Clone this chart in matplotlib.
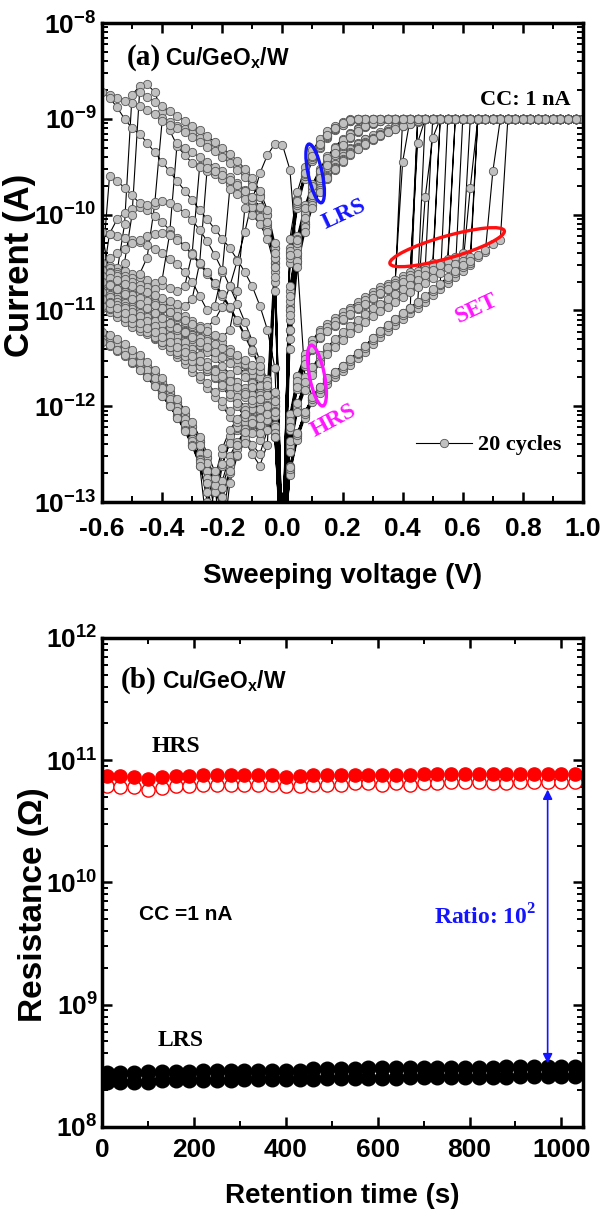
import numpy as np
import matplotlib
matplotlib.use("Agg")
import matplotlib.pyplot as plt
from matplotlib.patches import Ellipse
from matplotlib.transforms import ScaledTranslation
from matplotlib.ticker import MultipleLocator, LogLocator, NullFormatter

plt.rcParams['font.family'] = ['Liberation Sans', 'DejaVu Sans']
plt.rcParams['font.weight'] = 'bold'
plt.rcParams['axes.labelweight'] = 'bold'
plt.rcParams['axes.unicode_minus'] = False
SERIF = ['Liberation Serif', 'DejaVu Serif']

# ---------------- (a) I-V sweeps, 20 cycles ----------------
# sweep voltages (V)
v_up = [0.025, 0.05, 0.075, 0.1, 0.125, 0.15, 0.175, 0.2, 0.225, 0.25,
        0.275, 0.3, 0.325, 0.35, 0.375, 0.4, 0.425, 0.45, 0.475, 0.5,
        0.525, 0.55, 0.575, 0.6, 0.625, 0.65, 0.675, 0.7, 0.725, 0.75,
        0.775, 0.8, 0.825, 0.85, 0.875, 0.9, 0.925, 0.95, 0.975, 1.0]
v_down = v_up[-2::-1] + [0.0]
v_out = [-0.025, -0.05, -0.075, -0.1, -0.125, -0.15, -0.175, -0.2,
         -0.225, -0.25, -0.275, -0.3, -0.325, -0.35, -0.375, -0.4,
         -0.425, -0.45, -0.475, -0.5, -0.525, -0.55, -0.575, -0.6]
v_back = v_out[-2::-1] + [0.0]

# currents as -log10(I) * 100  (900 -> 1 nA compliance)
CC = 900

# forward sweep, HRS part before SET (rest sits at compliance)
hrs_up = [
    [1218, 1178, 1155, 1139, 1127, 1120, 1114, 1108, 1103, 1097, 1092, 1086, 1081, 1077, 1073],
    [1212, 1170, 1148, 1133, 1122, 1116, 1110, 1105, 1099, 1094, 1088, 1083, 1078, 1074, 1070, 945],
    [1225, 1182, 1158, 1141, 1129, 1122, 1116, 1110, 1105, 1099, 1094, 1088, 1083, 1079, 1075, 1071, 1067],
    [1270, 1233, 1210, 1194, 1184, 1175, 1168, 1161, 1155, 1148, 1141, 1133, 1126, 1119, 1113, 1107, 1100],
    [1208, 1168, 1146, 1131, 1120, 1114, 1108, 1102, 1097, 1091, 1086, 1081, 1076, 1072, 1068, 1064, 1060, 925],
    [1245, 1203, 1180, 1164, 1152, 1143, 1135, 1128, 1121, 1115, 1109, 1103, 1098, 1093, 1088, 1083, 1078, 1073],
    [1220, 1176, 1153, 1137, 1125, 1119, 1113, 1107, 1102, 1096, 1091, 1085, 1080, 1077, 1073, 1069, 1065, 1061, 1057],
    [1262, 1228, 1206, 1190, 1180, 1171, 1164, 1158, 1151, 1144, 1137, 1129, 1122, 1115, 1109, 1103, 1097, 1091, 982, 920],
    [1238, 1198, 1176, 1160, 1148, 1139, 1131, 1124, 1117, 1111, 1105, 1099, 1094, 1089, 1084, 1079, 1074, 1069, 1064, 1059],
    [1215, 1174, 1151, 1135, 1123, 1117, 1111, 1106, 1100, 1095, 1089, 1084, 1079, 1075, 1071, 1067, 1063, 1059, 1055, 1051],
    [953, 1050, 1170, 1190, 1180, 1172, 1165, 1158, 1152, 1145, 1138, 1130, 1123, 1116, 1110, 1104, 1098, 1092, 1086, 1079, 1073],
    [1222, 1180, 1156, 1140, 1128, 1121, 1115, 1109, 1104, 1098, 1093, 1087, 1082, 1078, 1074, 1070, 1066, 1062, 1058, 1054, 1050, 1046],
    [1242, 1201, 1179, 1163, 1151, 1142, 1134, 1127, 1120, 1114, 1108, 1102, 1097, 1092, 1087, 1082, 1077, 1072, 1067, 1062, 1057, 1052],
    [1268, 1231, 1209, 1193, 1183, 1174, 1167, 1160, 1154, 1147, 1140, 1132, 1125, 1118, 1112, 1106, 1100, 1094, 1088, 1081, 1075, 1068, 1062],
    [1265, 1229, 1207, 1191, 1181, 1172, 1165, 1159, 1152, 1145, 1138, 1130, 1123, 1116, 1110, 1104, 1098, 1092, 1086, 1079, 1073, 1066, 1060, 1054, 972],
    [1236, 1197, 1175, 1159, 1147, 1138, 1130, 1123, 1116, 1110, 1104, 1098, 1093, 1088, 1083, 1078, 1073, 1068, 1063, 1058, 1053, 1048, 1044, 1040],
    [1272, 1235, 1212, 1196, 1186, 1177, 1170, 1163, 1157, 1150, 1143, 1135, 1128, 1121, 1115, 1109, 1103, 1097, 1091, 1084, 1078, 1071, 1065, 1059, 1053],
    [1248, 1206, 1183, 1167, 1155, 1146, 1138, 1131, 1124, 1118, 1112, 1106, 1101, 1096, 1091, 1086, 1081, 1076, 1071, 1066, 1061, 1056, 1052, 1048, 1044],
    [1266, 1230, 1208, 1192, 1182, 1173, 1166, 1160, 1153, 1146, 1139, 1131, 1124, 1117, 1111, 1105, 1099, 1093, 1087, 1080, 1074, 1067, 1061, 1055, 1050, 1044, 1039, 955],
    [1263, 1228, 1206, 1190, 1180, 1171, 1164, 1158, 1151, 1144, 1137, 1129, 1122, 1115, 1109, 1103, 1097, 1091, 1085, 1078, 1072, 1065, 1059, 1053, 1048, 1042, 1037, 1031, 1026],
]

# backward sweep, LRS tail down to 0 V (before it: compliance)
lrs_down = [
    [901, 904, 909, 916, 925, 938, 956, 984, 1035, 1360],
    [901, 903, 906, 910, 915, 921, 929, 939, 952, 968, 990, 1022, 1080, 1370],
    [902, 904, 906, 909, 912, 915, 918, 921, 925, 930, 936, 943, 952, 963, 978, 998, 1025, 1075, 1380],
    [902, 906, 912, 920, 930, 944, 963, 993, 1050, 1350],
    [902, 904, 907, 911, 916, 923, 931, 942, 955, 972, 995, 1030, 1095, 1360],
    [901, 903, 905, 908, 911, 914, 917, 921, 926, 932, 939, 947, 957, 970, 986, 1008, 1040, 1110, 1390],
    [900, 903, 907, 913, 921, 933, 950, 976, 1025, 1370],
    [902, 905, 909, 914, 920, 928, 938, 950, 965, 985, 1010, 1048, 1120, 1380],
    [903, 905, 908, 911, 914, 918, 922, 927, 932, 938, 945, 953, 963, 975, 990, 1012, 1045, 1130, 1350],
    [902, 905, 910, 918, 928, 941, 960, 990, 1045, 1360],
    [901, 904, 908, 913, 919, 926, 935, 946, 960, 977, 1000, 1035, 1100, 1340],
    [902, 904, 907, 910, 913, 916, 920, 924, 929, 935, 942, 950, 960, 972, 988, 1010, 1042, 1100, 1370],
    [901, 905, 911, 919, 929, 942, 960, 988, 1040, 1380],
    [902, 904, 907, 912, 918, 925, 934, 945, 958, 975, 998, 1030, 1090, 1360],
    [901, 903, 906, 909, 913, 917, 921, 925, 930, 936, 943, 951, 961, 974, 990, 1013, 1048, 1120, 1390],
    [902, 906, 911, 918, 927, 940, 958, 985, 1038, 1350],
    [901, 903, 907, 911, 916, 922, 930, 941, 954, 970, 993, 1026, 1085, 1370],
    [902, 905, 908, 911, 914, 917, 921, 926, 931, 937, 944, 952, 962, 976, 993, 1018, 1055, 1140, 1380],
    [902, 904, 908, 913, 919, 927, 936, 948, 962, 980, 1004, 1040, 1105, 1360],
    [901, 904, 910, 917, 926, 939, 957, 986, 1042, 1370],
]

# negative sweep 0 -> -0.6 V
neg_out = [
    [1060, 1210, 1235, 1225, 1212, 1200, 1190, 1180, 1171, 1163, 1156, 1149, 1142, 1136, 1130, 1124, 1119, 1114, 1109, 1105, 1101, 1097, 1093, 1090],
    [1198, 1200, 1204, 1209, 1216, 1225, 1238, 1262, 1310, 1268, 1250, 1234, 1220, 1207, 1195, 1184, 1174, 1165, 1157, 1150, 1143, 1137, 1132, 1128],
    [1045, 1012, 996, 986, 978, 972, 966, 961, 957, 953, 949, 1040, 1075, 1080, 1077, 1074, 1071, 1068, 1065, 1062, 1059, 1056, 1054, 1051],
    [1080, 1240, 1262, 1250, 1236, 1223, 1211, 1200, 1190, 1181, 1172, 1164, 1156, 1149, 1142, 1136, 1130, 1124, 1119, 1114, 1109, 1105, 1101, 1097],
    [1050, 1015, 998, 988, 980, 974, 968, 963, 958, 954, 950, 946, 938, 928, 912, 893, 872, 864, 866, 875, 1010, 1060, 1075, 1080],
    [1190, 1193, 1197, 1203, 1210, 1219, 1231, 1250, 1285, 1330, 1262, 1240, 1224, 1210, 1197, 1185, 1175, 1166, 1158, 1150, 1143, 1137, 1131, 1126],
    [1050, 1018, 1002, 992, 984, 978, 973, 1060, 1095, 1100, 1085, 1070, 1060, 1052, 1046, 1040, 1036, 1032, 1029, 1026, 1024, 1022, 1020, 1018],
    [1045, 1180, 1205, 1196, 1185, 1175, 1166, 1158, 1150, 1143, 1136, 1130, 1124, 1118, 1113, 1108, 1103, 1098, 1094, 1090, 1086, 1082, 1079, 1076],
    [1035, 1000, 980, 967, 957, 949, 942, 936, 930, 925, 920, 915, 911, 907, 903, 899, 895, 891, 887, 884, 881, 878, 875, 872],
    [1035, 1000, 982, 970, 961, 953, 946, 940, 934, 929, 924, 919, 914, 910, 906, 902, 990, 1045, 1062, 1066, 1064, 1062, 1060, 1058],
    [1070, 1225, 1250, 1240, 1228, 1216, 1205, 1195, 1185, 1176, 1168, 1160, 1152, 1145, 1138, 1132, 1126, 1121, 1116, 1111, 1107, 1103, 1099, 1095],
    [1205, 1208, 1213, 1219, 1227, 1237, 1252, 1278, 1340, 1275, 1255, 1238, 1223, 1210, 1198, 1187, 1177, 1168, 1160, 1152, 1145, 1139, 1134, 1130],
    [1055, 1025, 1010, 1000, 993, 1080, 1120, 1128, 1126, 1122, 1118, 1114, 1110, 1106, 1102, 1098, 1094, 1090, 1087, 1084, 1081, 1078, 1075, 1072],
    [1055, 1195, 1220, 1212, 1201, 1190, 1180, 1171, 1162, 1154, 1147, 1140, 1133, 1127, 1121, 1115, 1110, 1105, 1100, 1096, 1092, 1088, 1084, 1081],
    [1045, 1010, 993, 982, 974, 967, 961, 955, 950, 945, 940, 935, 930, 925, 1020, 1068, 1078, 1076, 1073, 1070, 1067, 1064, 1061, 1058],
    [1185, 1188, 1192, 1197, 1204, 1213, 1225, 1244, 1275, 1300, 1256, 1236, 1219, 1205, 1192, 1181, 1171, 1162, 1154, 1147, 1140, 1134, 1128, 1123],
    [1040, 1008, 992, 982, 975, 969, 964, 959, 955, 951, 1050, 1088, 1095, 1093, 1090, 1087, 1084, 1081, 1078, 1075, 1072, 1069, 1066, 1064],
    [1065, 1200, 1228, 1219, 1208, 1197, 1187, 1178, 1169, 1161, 1153, 1146, 1139, 1133, 1127, 1121, 1116, 1111, 1106, 1102, 1098, 1094, 1091, 1088],
    [1030, 995, 975, 962, 952, 944, 937, 930, 924, 918, 912, 907, 902, 897, 892, 887, 882, 877, 872, 1000, 1050, 1068, 1072, 1070],
    [1210, 1214, 1220, 1228, 1238, 1251, 1268, 1295, 1345, 1280, 1258, 1240, 1225, 1212, 1200, 1189, 1179, 1170, 1162, 1155, 1148, 1142, 1137, 1133],
]

# negative sweep back -0.6 -> 0 V
neg_back = [
    [1095, 1100, 1104, 1108, 1112, 1116, 1119, 1122, 1125, 1128, 1131, 1134, 1137, 1140, 1143, 1146, 1149, 1152, 1156, 1160, 1166, 1175, 1195, 1370],
    [1131, 1135, 1140, 1146, 1152, 1159, 1167, 1176, 1186, 1197, 1209, 1222, 1237, 1254, 1275, 1320, 1270, 1245, 1228, 1216, 1208, 1203, 1200, 1380],
    [1056, 1061, 1066, 1071, 1076, 1081, 1086, 1091, 1096, 1101, 1106, 1111, 1116, 1121, 1127, 1133, 1140, 1148, 1157, 1167, 1179, 1195, 1220, 1380],
    [1102, 1107, 1112, 1117, 1121, 1125, 1129, 1133, 1137, 1141, 1145, 1149, 1153, 1157, 1161, 1165, 1170, 1175, 1181, 1188, 1196, 1207, 1225, 1390],
    [1083, 1087, 1091, 1095, 1099, 1103, 1107, 1111, 1115, 1119, 1123, 1127, 1131, 1135, 1140, 1145, 1151, 1158, 1166, 1175, 1186, 1200, 1222, 1380],
    [1129, 1134, 1139, 1145, 1151, 1158, 1166, 1175, 1185, 1196, 1208, 1221, 1236, 1253, 1290, 1260, 1238, 1222, 1211, 1203, 1197, 1193, 1191, 1370],
    [1064, 1069, 1074, 1079, 1084, 1089, 1094, 1099, 1104, 1109, 1114, 1119, 1124, 1130, 1136, 1142, 1149, 1157, 1166, 1176, 1188, 1203, 1228, 1370],
    [1080, 1085, 1090, 1094, 1098, 1102, 1106, 1110, 1114, 1118, 1122, 1126, 1130, 1134, 1138, 1142, 1146, 1151, 1156, 1162, 1170, 1180, 1200, 1360],
    [878, 888, 900, 910, 916, 925, 935, 945, 955, 965, 975, 985, 995, 1005, 1015, 1025, 1035, 1047, 1060, 1075, 1095, 1120, 1160, 1360],
    [1062, 1067, 1072, 1077, 1082, 1087, 1092, 1097, 1102, 1107, 1112, 1116, 1119, 1117, 1110, 1096, 1075, 1048, 1018, 985, 957, 938, 926, 927],
    [1098, 1103, 1108, 1113, 1118, 1123, 1128, 1133, 1138, 1143, 1148, 1153, 1158, 1163, 1168, 1173, 1178, 1184, 1190, 1197, 1205, 1215, 1232, 1380],
    [1134, 1138, 1143, 1149, 1156, 1163, 1171, 1180, 1190, 1201, 1213, 1226, 1241, 1259, 1282, 1350, 1280, 1252, 1233, 1220, 1212, 1207, 1204, 1390],
    [1020, 1005, 998, 994, 992, 995, 1001, 1008, 1016, 1024, 1033, 1042, 1052, 1062, 1073, 1085, 1098, 1112, 1127, 1143, 1160, 1180, 1210, 1390],
    [1086, 1091, 1095, 1099, 1103, 1107, 1111, 1114, 1117, 1120, 1123, 1126, 1129, 1132, 1135, 1139, 1143, 1147, 1152, 1157, 1163, 1172, 1190, 1370],
    [960, 965, 972, 980, 988, 990, 987, 986, 988, 992, 998, 1006, 1016, 1028, 1042, 1058, 1075, 1093, 1112, 1132, 1152, 1174, 1200, 1370],
    [1126, 1130, 1135, 1141, 1147, 1154, 1162, 1171, 1181, 1192, 1204, 1217, 1232, 1249, 1268, 1300, 1262, 1240, 1224, 1213, 1205, 1199, 1195, 1360],
    [1045, 1040, 1036, 1030, 1026, 1022, 1020, 1019, 1021, 1026, 1033, 1041, 1050, 1060, 1071, 1083, 1096, 1110, 1125, 1141, 1158, 1178, 1205, 1370],
    [1092, 1098, 1103, 1108, 1113, 1118, 1123, 1128, 1133, 1138, 1143, 1148, 1153, 1158, 1163, 1168, 1174, 1180, 1187, 1194, 1203, 1214, 1232, 1390],
    [1074, 1078, 1083, 1088, 1093, 1098, 1103, 1108, 1113, 1118, 1123, 1128, 1133, 1138, 1143, 1149, 1155, 1162, 1170, 1180, 1192, 1208, 1232, 1380],
    [1136, 1141, 1147, 1154, 1162, 1170, 1179, 1189, 1200, 1212, 1226, 1242, 1262, 1290, 1350, 1285, 1258, 1240, 1227, 1218, 1212, 1208, 1206, 1380],
]

# ---------------- (b) retention ----------------
t_sec = [10, 40, 70, 100, 130, 160, 190, 220, 250, 280, 310, 340, 370, 400,
         430, 460, 490, 520, 550, 580, 610, 640, 670, 700, 730, 760, 790,
         820, 850, 880, 910, 940, 970, 1000, 1030]
# log10(R / ohm)
hrs_a = [10.87, 10.87, 10.86, 10.85, 10.86, 10.87, 10.87, 10.875, 10.875, 10.88,
         10.88, 10.88, 10.875, 10.86, 10.87, 10.875, 10.875, 10.88, 10.88, 10.88,
         10.88, 10.88, 10.88, 10.885, 10.885, 10.885, 10.89, 10.89, 10.885, 10.885,
         10.89, 10.89, 10.89, 10.89, 10.89]
hrs_b = [10.79, 10.78, 10.78, 10.76, 10.77, 10.79, 10.79, 10.80, 10.80, 10.80,
         10.80, 10.80, 10.80, 10.79, 10.79, 10.80, 10.80, 10.80, 10.81, 10.81,
         10.80, 10.81, 10.80, 10.81, 10.81, 10.82, 10.82, 10.82, 10.81, 10.81,
         10.82, 10.82, 10.82, 10.82, 10.82]
lrs_a = [8.44, 8.44, 8.44, 8.45, 8.45, 8.45, 8.45, 8.46, 8.46, 8.46,
         8.46, 8.46, 8.46, 8.46, 8.46, 8.47, 8.47, 8.47, 8.47, 8.48,
         8.48, 8.48, 8.48, 8.48, 8.48, 8.48, 8.48, 8.48, 8.48, 8.49,
         8.49, 8.49, 8.49, 8.49, 8.49]
lrs_b = [8.37, 8.37, 8.37, 8.37, 8.38, 8.38, 8.38, 8.38, 8.38, 8.38,
         8.39, 8.39, 8.39, 8.39, 8.39, 8.39, 8.40, 8.40, 8.40, 8.40,
         8.40, 8.40, 8.41, 8.41, 8.41, 8.41, 8.41, 8.41, 8.41, 8.41,
         8.42, 8.42, 8.42, 8.42, 8.42]

# join the cycles into one continuous sweep record
V, logI = [], []
for up, dn, no, nb in zip(hrs_up, lrs_down, neg_out, neg_back):
    up = up + [CC] * (len(v_up) - len(up))
    dn = [CC] * (len(v_down) - len(dn)) + dn
    V += v_up + v_down + v_out + v_back
    logI += up + dn + no + nb
I = 10.0 ** (-np.array(logI) / 100.0)

fig = plt.figure(figsize=(6, 12.17), dpi=100)
ax1 = fig.add_axes([0.17, 0.5875, 0.8017, 0.3936])
ax2 = fig.add_axes([0.17, 0.074, 0.8017, 0.4018])

for ax in (ax1, ax2):
    for s in ax.spines.values():
        s.set_linewidth(2.5)
    ax.set_yscale('log')
    ax.yaxis.set_major_locator(LogLocator(base=10, numticks=20))
    ax.yaxis.set_minor_locator(LogLocator(base=10, subs=range(2, 10), numticks=20))
    ax.yaxis.set_minor_formatter(NullFormatter())
    ax.tick_params(which='both', direction='in', top=True, right=True, labelsize=19)
    ax.tick_params(which='major', length=7, width=1.8)
    ax.tick_params(which='minor', length=4, width=1.4)

# ---- panel (a)
ax1.plot(V, I, '-o', color='black', lw=0.8, ms=6, mfc='#c0c0c0', mec='#555555',
         mew=0.6, label='20 cycles')
ax1.set_xlim(-0.6, 1.0)
ax1.set_ylim(1e-13, 1e-8)
ax1.xaxis.set_major_locator(MultipleLocator(0.2))
ax1.xaxis.set_minor_locator(MultipleLocator(0.1))
ax1.tick_params(axis='x', pad=11)
ax1.tick_params(axis='y', pad=4)
ax1.set_xlabel('Sweeping voltage (V)', fontsize=20)
ax1.xaxis.set_label_coords(0.5, -0.127)
ax1.set_ylabel('Current (A)', fontsize=25)
ax1.yaxis.set_label_coords(-0.137, 0.495)

ax1.text(0.052, 0.912, '(a)', transform=ax1.transAxes, family=SERIF, fontsize=21)
ax1.text(0.131, 0.912, r'Cu/GeO$_\mathregular{x}$/W', transform=ax1.transAxes, fontsize=16.5)
ax1.text(0.879, 0.829, 'CC: 1 nA', transform=ax1.transAxes, family=SERIF, fontsize=16, ha='center')

ax1.text(0.205, 1e-10, 'LRS', color='#1414ff', family=SERIF, fontsize=17, rotation=25,
         ha='center', va='center', rotation_mode='anchor')
ax1.text(0.645, 10 ** -10.98, 'SET', color='#ff14ff', family=SERIF, fontsize=17, rotation=25,
         ha='center', va='center', rotation_mode='anchor')
ax1.text(0.17, 10 ** -12.15, 'HRS', color='#ff14ff', family=SERIF, fontsize=17, rotation=28,
         ha='center', va='center', rotation_mode='anchor')


def ring(ax, x, y, w, h, ang, color):
    tr = fig.dpi_scale_trans + ScaledTranslation(x, y, ax.transData)
    ax.add_patch(Ellipse((0, 0), w, h, angle=ang, transform=tr, fill=False,
                         ec=color, lw=2.4, zorder=2.5))


ring(ax1, 0.109, 10 ** -9.57, 0.60, 0.14, 102, '#1414ff')
ring(ax1, 0.548, 10 ** -10.34, 1.19, 0.22, 16, '#ff1010')
ring(ax1, 0.115, 10 ** -11.68, 0.62, 0.15, 101, '#ff14ff')

ax1.legend(loc='center right', bbox_to_anchor=(0.956, 0.119), frameon=False,
           borderaxespad=0, borderpad=0, handlelength=2.5, handletextpad=0.3,
           prop={'family': SERIF, 'weight': 'bold', 'size': 16})

# ---- panel (b)
ax2.plot(t_sec, 10 ** np.array(hrs_b), 'o', ls='none', ms=9.5, mfc='white', mec='red', mew=1.0)
ax2.plot(t_sec, 10 ** np.array(hrs_a), 'o', ls='none', ms=9.5, color='red')
ax2.plot(t_sec, 10 ** np.array(lrs_b), 'o', ls='none', ms=10.5, color='black')
ax2.plot(t_sec, 10 ** np.array(lrs_a), 'o', ls='none', ms=10.5, color='black')
ax2.set_xlim(0, 1047)
ax2.set_ylim(1e8, 1e12)
ax2.xaxis.set_major_locator(MultipleLocator(200))
ax2.xaxis.set_minor_locator(MultipleLocator(100))
ax2.tick_params(axis='x', pad=8)
ax2.tick_params(axis='y', pad=3)
ax2.set_xlabel('Retention time (s)', fontsize=20)
ax2.xaxis.set_label_coords(0.5, -0.115)
ax2.set_ylabel('Resistance (Ω)', fontsize=24)
ax2.yaxis.set_label_coords(-0.11, 0.454)

ax2.text(0.040, 0.898, '(b)', transform=ax2.transAxes, family=SERIF, fontsize=21)
ax2.text(0.125, 0.898, r'Cu/GeO$_\mathregular{x}$/W', transform=ax2.transAxes, fontsize=16.5)
ax2.text(161, 10 ** 11.11, 'HRS', family=SERIF, fontsize=17, ha='center', va='center')
ax2.text(172, 10 ** 8.71, 'LRS', family=SERIF, fontsize=17, ha='center', va='center')
ax2.text(183, 10 ** 9.74, 'CC =1 nA', fontsize=15, ha='center', va='center')
ax2.text(833, 10 ** 9.72, r'Ratio: 10$^\mathregular{2}$', color='#1414ff', family=SERIF,
         fontsize=17, ha='center', va='center')
ax2.annotate('', xy=(970, 10 ** 10.76), xytext=(970, 10 ** 8.52),
             arrowprops=dict(arrowstyle='<|-|>', color='#1414ff', lw=1.2,
                             mutation_scale=14, shrinkA=0, shrinkB=0))

fig.savefig('out.png', dpi=100)
